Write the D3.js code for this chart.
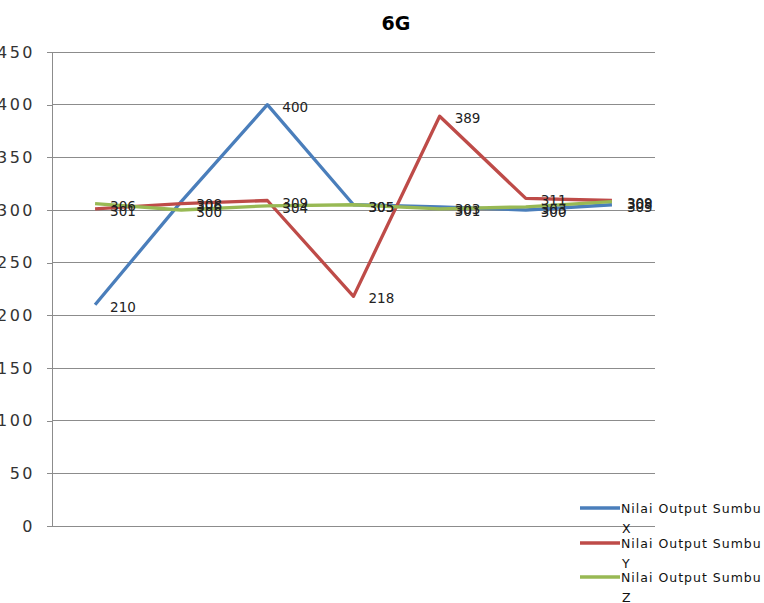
<!DOCTYPE html>
<html>
<head>
<meta charset="utf-8">
<script src="https://cdn.jsdelivr.net/npm/d3@7"></script>
<style>
  html, body { margin: 0; padding: 0; background: #fff; }
  svg { display: block; }
  text { font-family: "DejaVu Sans", Verdana, sans-serif; }
</style>
</head>
<body>
<svg id="chart" width="764" height="603"></svg>
<script>
// Measurement points (unlabelled on the category axis)
const categories = ["1", "2", "3", "4", "5", "6", "7"];
const seriesNames = ["Nilai Output Sumbu X", "Nilai Output Sumbu Y", "Nilai Output Sumbu Z"];
const valuesX = [210, 308, 400, 305, 303, 300, 305];
const valuesY = [301, 306, 309, 218, 389, 311, 309];
const valuesZ = [306, 300, 304, 305, 301, 303, 308];
const yTicks = [0, 50, 100, 150, 200, 250, 300, 350, 400, 450];
const chartTitle = "6G";

const colors = ["#4A7EBB", "#BE4B48", "#98B954"];
const series = [valuesX, valuesY, valuesZ];

const svg = d3.select("#chart");
const plot = { left: 52, right: 655, top: 52, bottom: 526 };

const x = d3.scalePoint().domain(categories).range([plot.left, plot.right]).padding(0.5);
const y = d3.scaleLinear().domain([0, 450]).range([plot.bottom, plot.top]);

// Title
svg.append("text")
  .attr("x", 396).attr("y", 30)
  .attr("text-anchor", "middle")
  .attr("font-size", 19).attr("font-weight", "bold")
  .attr("fill", "#000")
  .text(chartTitle);

// Horizontal gridlines
svg.append("g").selectAll("line")
  .data(yTicks.filter(d => d > 0))
  .join("line")
  .attr("x1", plot.left).attr("x2", plot.right)
  .attr("y1", d => y(d)).attr("y2", d => y(d))
  .attr("stroke", "#8c8c8c").attr("stroke-width", 1)
  .attr("shape-rendering", "crispEdges");

// Value axis (labels run off the left edge of the canvas)
const yAxis = svg.append("g")
  .attr("transform", `translate(${plot.left},0)`)
  .call(d3.axisLeft(y).tickValues(yTicks).tickSize(5).tickPadding(12));
yAxis.select(".domain").attr("stroke", "#8c8c8c").attr("shape-rendering", "crispEdges");
yAxis.selectAll(".tick line").attr("stroke", "#8c8c8c").attr("shape-rendering", "crispEdges");
yAxis.selectAll(".tick text")
  .attr("font-size", 16)
  .attr("letter-spacing", 2.5)
  .attr("fill", "#333")
  .style("font-family", "'DejaVu Sans', Verdana, sans-serif");

// Category axis baseline
svg.append("line")
  .attr("x1", plot.left).attr("x2", plot.right)
  .attr("y1", plot.bottom).attr("y2", plot.bottom)
  .attr("stroke", "#8c8c8c").attr("stroke-width", 1)
  .attr("shape-rendering", "crispEdges");

// Series lines
const line = d3.line().x((d, i) => x(categories[i])).y(d => y(d));
series.forEach((vals, k) => {
  svg.append("path")
    .datum(vals)
    .attr("d", line)
    .attr("fill", "none")
    .attr("stroke", colors[k])
    .attr("stroke-width", 3.3)
    .attr("stroke-linejoin", "round");
});

// Data labels, drawn after all lines
series.forEach((vals, k) => {
  svg.append("g").selectAll("text")
    .data(vals)
    .join("text")
    .attr("x", (d, i) => x(categories[i]) + 15)
    .attr("y", d => y(d) + 2)
    .attr("dominant-baseline", "central")
    .attr("font-size", 13.5)
    .attr("fill", "#222")
    .text(d => d);
});

// Legend
const legend = svg.append("g");
const legendRows = [508, 543, 577];
seriesNames.forEach((name, k) => {
  const ly = legendRows[k];
  legend.append("line")
    .attr("x1", 580).attr("x2", 620)
    .attr("y1", ly).attr("y2", ly)
    .attr("stroke", colors[k]).attr("stroke-width", 3.3);
  const words = name.split(" ");
  legend.append("text")
    .attr("x", 621).attr("y", ly)
    .attr("dominant-baseline", "central")
    .attr("font-size", 12.5)
    .attr("letter-spacing", 1)
    .attr("fill", "#111")
    .text(words.slice(0, 3).join(" "));
  legend.append("text")
    .attr("x", 622).attr("y", ly + 20)
    .attr("dominant-baseline", "central")
    .attr("font-size", 12.5)
    .attr("fill", "#111")
    .text(words[3]);
});
</script>
</body>
</html>
